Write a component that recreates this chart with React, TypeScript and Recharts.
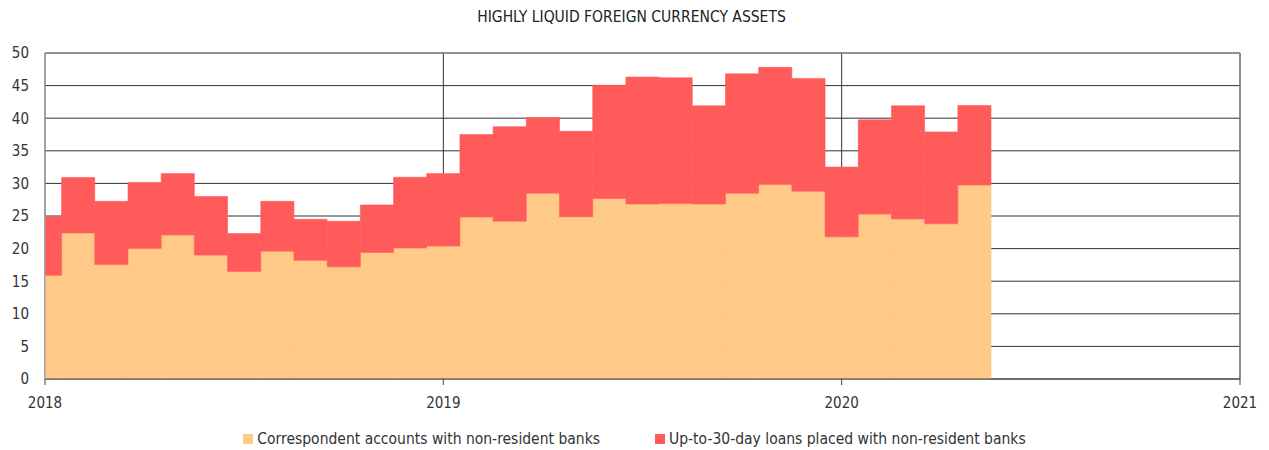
import { BarChart, Bar, XAxis, YAxis, CartesianGrid, ReferenceLine } from 'recharts'

// monthly observations, Jan 2018 – May 2020 (USD bn)
const months = [
  '2018-01', '2018-02', '2018-03', '2018-04', '2018-05', '2018-06',
  '2018-07', '2018-08', '2018-09', '2018-10', '2018-11', '2018-12',
  '2019-01', '2019-02', '2019-03', '2019-04', '2019-05', '2019-06',
  '2019-07', '2019-08', '2019-09', '2019-10', '2019-11', '2019-12',
  '2020-01', '2020-02', '2020-03', '2020-04', '2020-05',
]

const correspondent = [
  15.9, 22.4, 17.55, 20.05, 22.1, 19.0, 16.5, 19.6, 18.2, 17.2, 19.4, 20.1,
  20.4, 24.85, 24.2, 28.5, 24.9, 27.7, 26.85, 26.9, 26.85, 28.5, 29.85, 28.8,
  21.8, 25.3, 24.55, 23.8, 29.75,
]

const loans = [
  9.0, 8.5, 9.7, 10.1, 9.4, 9.0, 5.8, 7.65, 6.3, 7.0, 7.3, 10.85,
  11.1, 12.65, 14.5, 11.6, 13.1, 17.35, 19.45, 19.3, 15.05, 18.3, 17.95, 17.3,
  10.7, 14.45, 17.35, 14.1, 12.2,
]

const yearLabels = ['2018', '2019', '2020', '2021']
const yTicks = [0, 5, 10, 15, 20, 25, 30, 35, 40, 45, 50]

const FONT = "'Liberation Sans Narrow', 'DejaVu Sans Condensed', Roboto, sans-serif"
const ORANGE = '#ffc987'
const RED = '#ff5b5b'

const CHART_W = 1269
const PLOT_LEFT = 45
const PLOT_RIGHT = 1240
// one month on the time axis; a hair less so recharts doesn't shrink the bars
const MONTH_PX = (PLOT_RIGHT - PLOT_LEFT) / 36 - 0.02

const data = months.map((m, i) => {
  const [y, mo] = m.split('-').map(Number)
  return {
    t: (y - 2018) * 12 + (mo - 1),
    correspondent: correspondent[i],
    loans: loans[i],
  }
})

export default function App() {
  return (
    <div style={{ position: 'absolute', left: 0, top: 0, width: CHART_W, height: 450, fontFamily: FONT, background: '#fff' }}>
      <div style={{ position: 'absolute', top: 8, left: 0, width: CHART_W - 6, textAlign: 'center', fontSize: 15.5, color: '#222' }}>
        HIGHLY LIQUID FOREIGN CURRENCY ASSETS
      </div>
      <BarChart
        width={CHART_W}
        height={425}
        data={data}
        margin={{ top: 53, right: CHART_W - PLOT_RIGHT, left: 0, bottom: 0 }}
        barGap={0}
        barCategoryGap={0}
      >
        <CartesianGrid stroke="#333" strokeWidth={1} />
        <XAxis
          type="number"
          dataKey="t"
          domain={[0, 36]}
          allowDataOverflow
          ticks={[0, 12, 24, 36]}
          tickFormatter={(v: number) => yearLabels[v / 12]}
          height={46}
          tickSize={6}
          tickMargin={12}
          stroke="#444"
          tick={{ fontSize: 15, fill: '#333', fontFamily: FONT }}
        />
        <YAxis
          domain={[0, 50]}
          ticks={yTicks}
          width={PLOT_LEFT}
          axisLine={{ stroke: '#aaa' }}
          tickLine={false}
          tickSize={6}
          tickMargin={10}
          tick={{ fontSize: 15, fill: '#333', fontFamily: FONT }}
        />
        <ReferenceLine y={50} stroke="#888" />
        <ReferenceLine x={36} stroke="#888" strokeWidth={1.5} />
        <Bar dataKey="correspondent" stackId="a" fill={ORANGE} stroke={ORANGE} strokeWidth={0.6} barSize={MONTH_PX} isAnimationActive={false} />
        <Bar dataKey="loans" stackId="a" fill={RED} stroke={RED} strokeWidth={0.6} barSize={MONTH_PX} isAnimationActive={false} />
      </BarChart>
      <div style={{ position: 'absolute', top: 430, left: 0, width: CHART_W, display: 'flex', justifyContent: 'center', fontSize: 15.5, color: '#333', gap: 55 }}>
        <span style={{ display: 'flex', alignItems: 'center' }}>
          <span style={{ width: 10, height: 10, background: ORANGE, marginRight: 4, display: 'inline-block' }} />
          Correspondent accounts with non-resident banks
        </span>
        <span style={{ display: 'flex', alignItems: 'center' }}>
          <span style={{ width: 10, height: 10, background: RED, marginRight: 4, display: 'inline-block' }} />
          Up-to-30-day loans placed with non-resident banks
        </span>
      </div>
    </div>
  )
}
